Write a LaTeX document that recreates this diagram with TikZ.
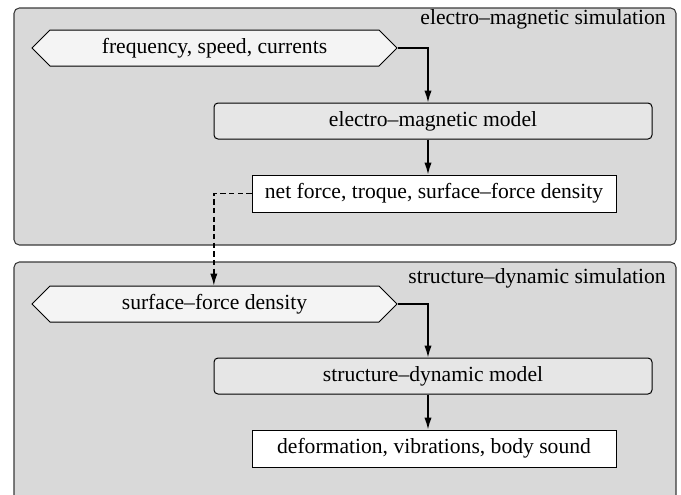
\documentclass[tikz,border=0pt]{standalone}
\usepackage{fontspec}
\setmainfont{Liberation Serif}
\usetikzlibrary{shapes.symbols,arrows.meta}

\definecolor{panelgray}{HTML}{D9D9D9}
\definecolor{modelgray}{HTML}{E6E6E6}
\definecolor{hexgray}{HTML}{F4F4F4}
\definecolor{framegray}{HTML}{3A3A3A}

\tikzset{
  panel/.style={draw=framegray, fill=panelgray, line width=0.8pt, rounded corners=4pt},
  paneltitle/.style={anchor=base east, inner sep=0pt},
  inputhex/.style={shape=signal, signal to=west and east, signal pointer angle=90,
    draw, fill=hexgray, line width=0.75pt, minimum width={365*0.75pt},
    minimum height={36*0.75pt}, inner sep=0pt},
  modelbox/.style={draw, fill=modelgray, rounded corners=3pt, line width=0.75pt,
    minimum width={438*0.75pt}, minimum height={36*0.75pt}, inner sep=0pt},
  resultbox/.style={draw, fill=white, line width=0.75pt,
    minimum width={364*0.75pt}, minimum height={37*0.75pt}, inner sep=0pt},
  flow/.style={line width=1pt, -{Latex[length=9pt,width=5.5pt]}},
  handover/.style={flow, dash pattern=on 4pt off 2.5pt}
}

\begin{document}
\begin{tikzpicture}[x=0.75pt, y=-0.75pt, font=\fontsize{16.2}{19}\selectfont]
  \useasboundingbox (0,0) rectangle (681,494);
  \clip (0,0) rectangle (681,494);

  % simulation panels
  \path[panel] (14,8) rectangle (676,245);
  \path[panel] (14,262) rectangle (676,520);
  \node[paneltitle] (emtitle) at (666,24) {electro--magnetic simulation};
  \node[paneltitle] (sdtitle) at (666,283) {structure--dynamic simulation};

  % electro-magnetic chain
  \node[inputhex] (emin) at (214.5,48) {frequency, speed, currents};
  \node[modelbox] (emmodel) at (433,121) {electro--magnetic model};
  \node[resultbox] (emout) at (434,193.5) {net force, troque, surface--force density};

  % structure-dynamic chain
  \node[inputhex] (sdin) at (214.5,304) {surface--force density};
  \node[modelbox] (sdmodel) at (433,376) {structure--dynamic model};
  \node[resultbox] (sdout) at (434,448.5) {deformation, vibrations, body sound};

  % connectors
  \draw[flow] (emin.east) -| ([xshift=-3.75pt]emmodel.north);
  \draw[flow] ([xshift=-3.75pt]emmodel.south) -- ([xshift=-3.75pt]emmodel.south |- emout.north);
  \draw[handover] (emout.west) -| ([xshift=-0.5pt]sdin.north);
  \draw[flow] (sdin.east) -| ([xshift=-3.75pt]sdmodel.north);
  \draw[flow] ([xshift=-3.75pt]sdmodel.south) -- ([xshift=-3.75pt]sdmodel.south |- sdout.north);
\end{tikzpicture}
\end{document}
